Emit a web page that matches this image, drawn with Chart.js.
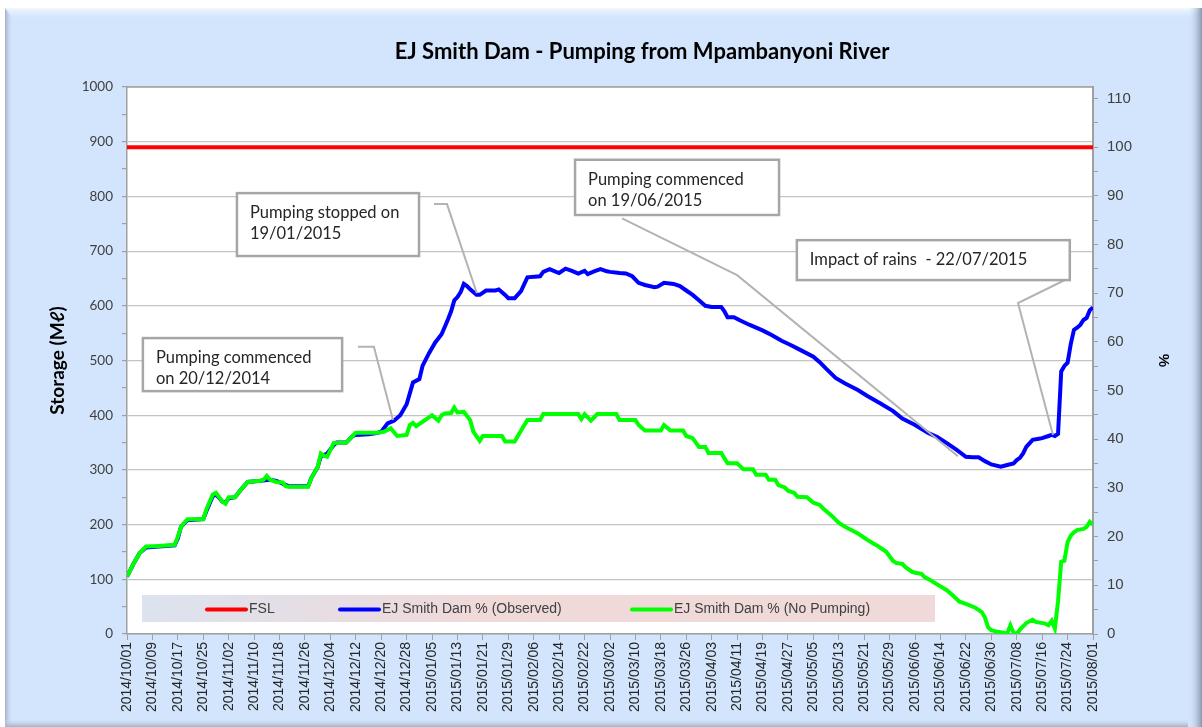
<!DOCTYPE html>
<html>
<head>
<meta charset="utf-8">
<script src="https://cdn.jsdelivr.net/npm/chart.js@4.4.0/dist/chart.umd.min.js"></script>
<style>
html, body { margin: 0; padding: 0; background: #fff; }
#wrap { width: 1202px; height: 727px; }
</style>
</head>
<body>
<div id="wrap"><canvas id="chart" width="1202" height="727"></canvas></div>
<script>
// day 0 = 2014/10/01, one x tick every 8 days
const dateLabels = [
    '2014/10/01', '2014/10/09', '2014/10/17', '2014/10/25', '2014/11/02', '2014/11/10',
    '2014/11/18', '2014/11/26', '2014/12/04', '2014/12/12', '2014/12/20', '2014/12/28',
    '2015/01/05', '2015/01/13', '2015/01/21', '2015/01/29', '2015/02/06', '2015/02/14',
    '2015/02/22', '2015/03/02', '2015/03/10', '2015/03/18', '2015/03/26', '2015/04/03',
    '2015/04/11', '2015/04/19', '2015/04/27', '2015/05/05', '2015/05/13', '2015/05/21',
    '2015/05/29', '2015/06/06', '2015/06/14', '2015/06/22', '2015/06/30', '2015/07/08',
    '2015/07/16', '2015/07/24', '2015/08/01'
];
const tickStepDays = 8;
const lastDay = 304;

// storage in Ml
const fslValue = 890;

const observedDays = [
    0, 2, 4, 6, 10, 15, 16, 17, 19, 24, 25, 27, 28, 30, 31, 32, 34, 36, 38, 42,
    45, 47, 49, 51, 57, 58, 60, 61, 62, 63, 65, 66, 69, 71, 72, 76, 79, 80, 82, 84,
    86, 88, 89, 90, 92, 93, 95, 97, 99, 101, 102, 103, 104, 105, 106, 107, 108, 110, 111, 113,
    116, 117, 119, 120, 122, 124, 126, 130, 131, 133, 135, 136, 138, 140, 142, 144, 145, 147, 149, 151,
    152, 155, 157, 159, 161, 163, 166, 167, 169, 172, 174, 176, 178, 180, 182, 184, 187, 188, 189, 191,
    193, 196, 198, 200, 203, 206, 209, 212, 216, 218, 220, 223, 226, 230, 233, 237, 241, 244, 248, 252,
    255, 258, 261, 264, 266, 268, 270, 272, 275, 277, 279, 280, 281, 282, 283, 285, 287, 288, 290, 291,
    292, 293, 294, 295, 296, 297, 298, 299, 300, 301, 302, 303, 304
];
const observedValues = [
    105, 128, 148, 158, 160, 162, 175, 196, 208, 210, 225, 252, 255, 242, 240, 248, 250, 265, 278, 280,
    282, 280, 275, 270, 270, 285, 305, 325, 327, 330, 345, 350, 350, 362, 364, 365, 368, 370, 385, 390,
    400, 420, 440, 460, 466, 490, 513, 533, 548, 575, 590, 610, 616, 625, 640, 636, 630, 620, 620, 628,
    628, 630, 620, 614, 614, 627, 652, 654, 662, 667, 662, 660, 668, 664, 659, 664, 658, 663, 667, 663,
    662, 660, 659, 654, 642, 638, 634, 635, 642, 640, 636, 628, 620, 610, 600, 598, 598, 590, 579, 579,
    573, 565, 560, 555, 546, 536, 528, 519, 507, 497, 485, 468, 458, 446, 435, 422, 408, 394, 382, 368,
    360, 349, 337, 324, 323, 323, 316, 310, 306, 309, 312, 318, 322, 330, 342, 355, 357, 358, 362, 364,
    362, 366, 480, 490, 496, 530, 556, 560, 565, 574, 578, 592, 597
];

const noPumpDays = [
    0, 2, 4, 6, 10, 15, 16, 17, 19, 24, 25, 27, 28, 30, 31, 32, 34, 36, 38, 42,
    43, 44, 45, 47, 49, 50, 51, 57, 58, 60, 61, 62, 63, 65, 69, 71, 72, 79, 81, 83,
    85, 88, 89, 90, 91, 93, 94, 96, 98, 99, 100, 102, 103, 104, 106, 108, 109, 111, 112, 118,
    119, 122, 124, 126, 130, 131, 142, 143, 144, 146, 148, 154, 155, 160, 161, 163, 168, 169, 171, 175,
    176, 178, 180, 182, 183, 187, 189, 192, 194, 197, 198, 201, 202, 204, 205, 207, 208, 210, 211, 214,
    216, 218, 219, 221, 222, 224, 226, 227, 229, 230, 232, 233, 235, 236, 238, 239, 241, 242, 244, 245,
    247, 248, 250, 251, 253, 254, 256, 258, 260, 262, 264, 267, 269, 270, 271, 272, 274, 277, 278, 279,
    280, 281, 283, 285, 286, 289, 290, 291, 292, 293, 294, 295, 296, 297, 298, 299, 301, 302, 303, 304
];
const noPumpValues = [
    105, 128, 148, 160, 161, 163, 178, 196, 210, 210, 228, 255, 258, 242, 238, 250, 250, 265, 278, 280,
    282, 289, 282, 278, 277, 270, 269, 269, 285, 305, 330, 326, 324, 349, 350, 362, 368, 368, 370, 376,
    362, 364, 382, 386, 380, 388, 392, 400, 390, 400, 403, 404, 414, 405, 406, 391, 370, 353, 362, 362,
    352, 352, 372, 391, 391, 402, 402, 393, 402, 390, 402, 402, 391, 391, 382, 372, 372, 382, 372, 372,
    362, 358, 342, 342, 331, 331, 312, 312, 301, 301, 291, 291, 282, 282, 272, 268, 262, 258, 251, 250,
    240, 236, 230, 220, 215, 203, 196, 193, 187, 184, 176, 172, 165, 162, 154, 150, 134, 130, 128, 122,
    114, 112, 110, 104, 98, 94, 87, 80, 70, 59, 55, 48, 40, 30, 12, 7, 4, 1, 16, 2,
    0, 8, 20, 26, 22, 19, 16, 24, 10, 60, 132, 134, 168, 180, 186, 190, 192, 196, 205, 200
];

// 100 % = FSL
const percentPerMl = 100 / fslValue;

// callouts: box corners and leader points in (day, Ml)
const callouts = [
    { lines: ['Pumping commenced', 'on 20/12/2014'], box: [5, 541, 67.7, 444],
      leader: [[72.7, 525], [77.7, 525], [83.7, 391]] },
    { lines: ['Pumping stopped on', '19/01/2015'], box: [34.6, 806, 91.9, 691],
      leader: [[96.6, 786], [100.7, 786], [110.1, 623]] },
    { lines: ['Pumping commenced', 'on 19/06/2015'], box: [141, 867, 205.2, 766],
      leader: [[155.8, 760], [192, 656], [261.5, 325]] },
    { lines: ['Impact of rains  - 22/07/2015'], box: [210.8, 720, 296.7, 647],
      leader: [[295.8, 649], [280.4, 605], [291.4, 364]] }
];

function toPoints(days, values) {
    return days.map((d, i) => ({ x: d, y: values[i] }));
}

// 背景面板
const panelPlugin = {
    id: 'panel',
    beforeDraw(chart) {
        const ctx = chart.ctx;
        const w = chart.width, h = chart.height;
        ctx.save();
        ctx.fillStyle = '#ffffff';
        ctx.fillRect(0, 0, w, h);
        ctx.fillStyle = '#d3e5fc';
        ctx.fillRect(5, 8, w - 5, h - 8);
        let g = ctx.createLinearGradient(5, 0, 13, 0);
        g.addColorStop(0, '#a3b1c4');
        g.addColorStop(1, 'rgba(211,229,252,0)');
        ctx.fillStyle = g;
        ctx.fillRect(5, 8, 8, h - 8);
        g = ctx.createLinearGradient(0, 8, 0, 20);
        g.addColorStop(0, '#f4f9ff');
        g.addColorStop(1, 'rgba(211,229,252,0)');
        ctx.fillStyle = g;
        ctx.beginPath();
        ctx.moveTo(5, 8); ctx.lineTo(w, 8); ctx.lineTo(w - 12, 20); ctx.lineTo(13, 20);
        ctx.closePath();
        ctx.fill();
        g = ctx.createLinearGradient(w - 14, 0, w, 0);
        g.addColorStop(0, 'rgba(211,229,252,0)');
        g.addColorStop(1, '#8797ad');
        ctx.fillStyle = g;
        ctx.fillRect(w - 14, 8, 14, h - 8);
        g = ctx.createLinearGradient(0, h - 9, 0, h);
        g.addColorStop(0, 'rgba(211,229,252,0)');
        g.addColorStop(1, '#a4b2c4');
        ctx.fillStyle = g;
        ctx.fillRect(5, h - 9, w - 19, 9);
        // chart area
        const a = chart.chartArea;
        ctx.fillStyle = '#ffffff';
        ctx.fillRect(a.left, a.top, a.right - a.left, a.bottom - a.top);
        ctx.restore();
    },
    afterDraw(chart) {
        const ctx = chart.ctx;
        const a = chart.chartArea;
        ctx.save();
        ctx.font = 'bold 22px Lato';
        ctx.fillStyle = '#000000';
        ctx.textAlign = 'center';
        ctx.textBaseline = 'middle';
        ctx.fillText('EJ Smith Dam - Pumping from Mpambanyoni River', 642, 52);
        ctx.strokeStyle = '#a0a0a0';
        ctx.lineWidth = 1.5;
        ctx.beginPath();
        ctx.moveTo(a.left, a.top);
        ctx.lineTo(a.right, a.top);
        ctx.stroke();
        ctx.restore();
    }
};

// 注释框和图例
const overlayPlugin = {
    id: 'overlay',
    afterDatasetsDraw(chart) {
        const ctx = chart.ctx;
        const xs = chart.scales.x, ys = chart.scales.y;
        const a = chart.chartArea;
        ctx.save();

        callouts.forEach(c => {
            ctx.strokeStyle = '#b3b3b3';
            ctx.lineWidth = 2;
            ctx.beginPath();
            c.leader.forEach((p, i) => {
                const px = xs.getPixelForValue(p[0]);
                const py = ys.getPixelForValue(p[1]);
                if (i === 0) ctx.moveTo(px, py); else ctx.lineTo(px, py);
            });
            ctx.stroke();

            const x0 = xs.getPixelForValue(c.box[0]);
            const y0 = ys.getPixelForValue(c.box[1]);
            const x1 = xs.getPixelForValue(c.box[2]);
            const y1 = ys.getPixelForValue(c.box[3]);
            ctx.fillStyle = '#ffffff';
            ctx.fillRect(x0, y0, x1 - x0, y1 - y0);
            ctx.strokeStyle = '#a6a6a6';
            ctx.lineWidth = 2.5;
            ctx.strokeRect(x0, y0, x1 - x0, y1 - y0);
            ctx.fillStyle = '#262626';
            ctx.font = '16.5px Lato';
            ctx.textAlign = 'left';
            ctx.textBaseline = 'middle';
            c.lines.forEach((t, i) => {
                ctx.fillText(t, x0 + 13, y0 + 20 + i * 21);
            });
        });

        // legend
        const lx = a.left + 15, ly = a.bottom - 39, lw = 793, lh = 27;
        const g = ctx.createLinearGradient(lx, ly, lx + lw * 0.3, ly + lh * 6);
        g.addColorStop(0, '#dbe3f0');
        g.addColorStop(1, '#f0d9d9');
        ctx.fillStyle = g;
        ctx.fillRect(lx, ly, lw, lh);
        const items = [0, 1, 2].map(i => chart.data.datasets[i]);
        const offsets = [65, 198, 490];
        ctx.font = '14px "Liberation Sans"';
        ctx.textBaseline = 'middle';
        ctx.textAlign = 'left';
        items.forEach((ds, i) => {
            const sx = lx + offsets[i];
            const sy = ly + lh / 2 + 1;
            ctx.strokeStyle = ds.borderColor;
            ctx.lineWidth = 4;
            ctx.lineCap = 'round';
            ctx.beginPath();
            ctx.moveTo(sx, sy);
            ctx.lineTo(sx + 39, sy);
            ctx.stroke();
            ctx.fillStyle = '#404040';
            ctx.fillText(ds.label, sx + 42, sy);
        });
        ctx.restore();
    }
};

const ctx = document.getElementById('chart').getContext('2d');
new Chart(ctx, {
    type: 'line',
    data: {
        datasets: [
            {
                label: 'FSL',
                data: [{ x: 0, y: fslValue }, { x: lastDay, y: fslValue }],
                borderColor: '#ff0000',
                borderWidth: 4,
                pointRadius: 0,
                order: 2
            },
            {
                label: 'EJ Smith Dam % (Observed)',
                data: toPoints(observedDays, observedValues),
                borderColor: '#0000ff',
                borderWidth: 4,
                pointRadius: 0,
                order: 1
            },
            {
                label: 'EJ Smith Dam % (No Pumping)',
                data: toPoints(noPumpDays, noPumpValues),
                borderColor: '#00ff00',
                borderWidth: 4,
                pointRadius: 0,
                order: 0
            }
        ]
    },
    options: {
        responsive: false,
        animation: false,
        layout: { padding: { left: 10, right: 12, top: 87, bottom: 0 } },
        plugins: {
            legend: { display: false },
            tooltip: { enabled: false },
            title: { display: false }
        },
        scales: {
            x: {
                type: 'linear',
                min: 0,
                max: lastDay,
                afterBuildTicks: s => { s.ticks = dateLabels.map((_, i) => ({ value: i * tickStepDays })); },
                afterFit: s => { s.height = 93; },
                ticks: {
                    autoSkip: false,
                    minRotation: 90,
                    maxRotation: 90,
                    padding: 2,
                    color: '#262626',
                    font: { family: 'Liberation Sans', size: 14 },
                    callback: (v, i) => dateLabels[i]
                },
                grid: { drawOnChartArea: false, tickLength: 6, tickColor: '#a0a0a0' },
                border: { color: '#a0a0a0', width: 1.5 }
            },
            y: {
                position: 'left',
                min: 0,
                max: 1000,
                afterBuildTicks: s => {
                    const t = [];
                    for (let v = 0; v <= 1000; v += 50) t.push({ value: v });
                    s.ticks = t;
                },
                afterFit: s => { s.width = 117; },
                ticks: {
                    padding: 9,
                    color: '#404040',
                    font: { family: 'Lato', size: 13.5 },
                    callback: v => (v % 100 === 0 ? v : '')
                },
                grid: {
                    tickLength: 5,
                    tickColor: '#a0a0a0',
                    color: c => (c.tick && c.tick.value % 100 === 0 ? '#c4c4c4' : 'rgba(0,0,0,0)'),
                    lineWidth: 1.2
                },
                border: { color: '#a0a0a0', width: 1.5 },
                title: {
                    display: true,
                    text: 'Storage (Mℓ)',
                    color: '#000000',
                    font: { family: 'Lato', size: 19, weight: 'bold' },
                    padding: { top: 36, bottom: 0 }
                }
            },
            y1: {
                position: 'right',
                min: 0,
                max: 1000 * percentPerMl,
                afterBuildTicks: s => {
                    const t = [];
                    for (let v = 0; v <= 110; v += 5) t.push({ value: v });
                    s.ticks = t;
                },
                afterFit: s => { s.width = 97; },
                ticks: {
                    padding: 9,
                    color: '#404040',
                    font: { family: 'Liberation Sans', size: 15 },
                    callback: v => (v % 10 === 0 ? v : '')
                },
                grid: { drawOnChartArea: false, tickLength: 5, tickColor: '#a0a0a0' },
                border: { color: '#a0a0a0', width: 2 },
                title: {
                    display: true,
                    text: '%',
                    color: '#000000',
                    font: { family: 'Liberation Sans', size: 15, weight: 'bold' },
                    padding: { top: 18, bottom: 0 }
                }
            }
        }
    },
    plugins: [panelPlugin, overlayPlugin]
});
</script>
</body>
</html>
